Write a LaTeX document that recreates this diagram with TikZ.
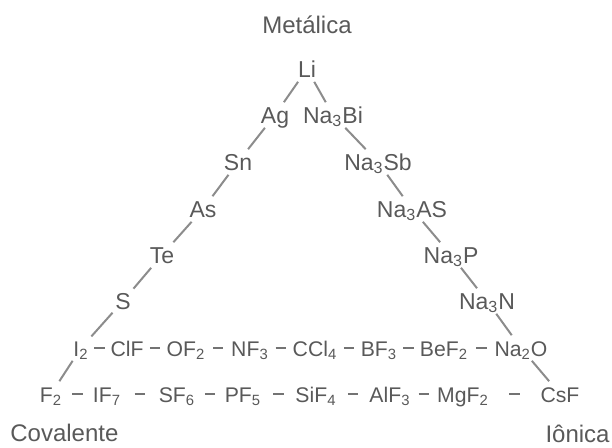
\documentclass[tikz,border=0pt]{standalone}
\usepackage{fontspec}
\setmainfont{Liberation Sans}
\usetikzlibrary{calc}

\newcommand{\sbs}[1]{\textsubscript{#1}}

\begin{document}
\begin{tikzpicture}[x=0.5pt, y=-0.5pt,
  every node/.style={font=\fontsize{11.5}{13}\selectfont, text=black!65},
  cmpd/.style={anchor=base, inner sep=1.2pt, text height=9pt, text depth=1pt},
  rowcmpd/.style={cmpd, font=\fontsize{10.6}{12}\selectfont},
  corner/.style={font=\fontsize{12}{14}\selectfont, inner sep=0pt},
  edge/.style={draw=black!45, line width=1pt},
  dashlink/.style={draw=black!55, line width=0.9pt}]
  \useasboundingbox (0,0) rectangle (612,447);

  % corner labels
  \node[corner, anchor=base] (met) at (307,33) {Metálica};
  \node[corner, anchor=base west] (cov) at (10,441) {Covalente};
  \node[corner, anchor=base east] (ion) at (610,442) {Iônica};

  % left side: metal to covalent
  \node[cmpd] (li) at (307,77) {Li};
  \node[cmpd] (ag) at (275,123) {Ag};
  \node[cmpd] (sn) at (238,170) {Sn};
  \node[cmpd] (as) at (203,217) {As};
  \node[cmpd] (te) at (162,263) {Te};
  \node[cmpd] (s) at (123,309) {S};

  % right side: metal to ionic
  \node[cmpd] (nabi) at (333,123) {Na\sbs{3}Bi};
  \node[cmpd] (nasb) at (378,170) {Na\sbs{3}Sb};
  \node[cmpd] (naas) at (412,217) {Na\sbs{3}AS};
  \node[cmpd] (nap) at (451,263) {Na\sbs{3}P};
  \node[cmpd] (nan) at (487,309) {Na\sbs{3}N};

  % upper row
  \node[rowcmpd] (i2) at (81,356) {I\sbs{2}};
  \node[rowcmpd] (clf) at (127,356) {ClF};
  \node[rowcmpd] (of2) at (186,356) {OF\sbs{2}};
  \node[rowcmpd] (nf3) at (250,356) {NF\sbs{3}};
  \node[rowcmpd] (ccl4) at (315,356) {CCl\sbs{4}};
  \node[rowcmpd] (bf3) at (379,356) {BF\sbs{3}};
  \node[rowcmpd] (bef2) at (444,356) {BeF\sbs{2}};
  \node[rowcmpd] (na2o) at (521,356) {Na\sbs{2}O};

  % lower row
  \node[rowcmpd] (f2) at (51,402) {F\sbs{2}};
  \node[rowcmpd] (if7) at (107,402) {IF\sbs{7}};
  \node[rowcmpd] (sf6) at (177,402) {SF\sbs{6}};
  \node[rowcmpd] (pf5) at (243,402) {PF\sbs{5}};
  \node[rowcmpd] (sif4) at (316,402) {SiF\sbs{4}};
  \node[rowcmpd] (alf3) at (390,402) {AlF\sbs{3}};
  \node[rowcmpd] (mgf2) at (463,402) {MgF\sbs{2}};
  \node[rowcmpd] (csf) at (560,402) {CsF};

  % sides of the triangle
  \foreach \a/\b in {li/ag, ag/sn, sn/as, as/te, te/s, s/i2, i2/f2,
                     li/nabi, nabi/nasb, nasb/naas, naas/nap, nap/nan, nan/na2o, na2o/csf}
    \draw[edge] (\a) -- (\b);

  % dashes along the rows, one short dash midway between neighbours
  \foreach \a/\b in {i2/clf, clf/of2, of2/nf3, nf3/ccl4, ccl4/bf3, bf3/bef2, bef2/na2o,
                     f2/if7, if7/sf6, sf6/pf5, pf5/sif4, sif4/alf3, alf3/mgf2, mgf2/csf}
    \draw[dashlink] ($(\a.east)!0.5!(\b.west)$) +(-2.6pt,0) -- +(2.6pt,0);

\end{tikzpicture}
\end{document}
